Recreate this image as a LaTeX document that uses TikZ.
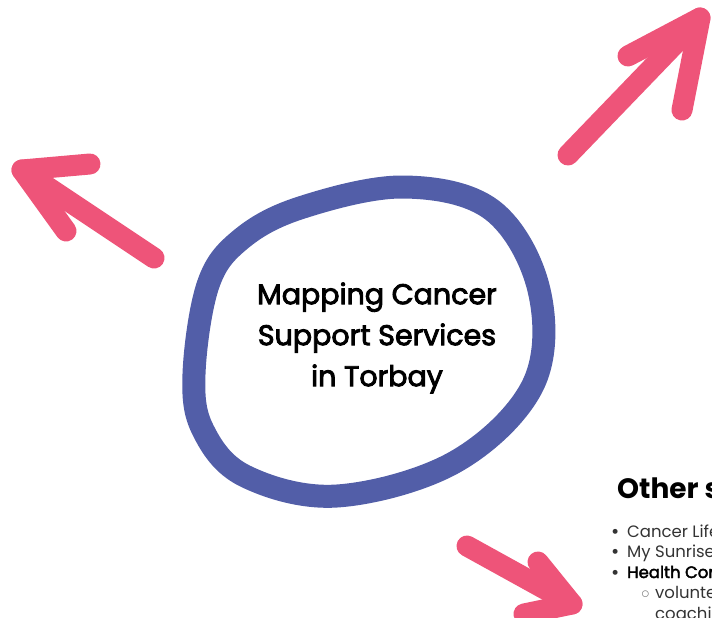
\documentclass[tikz,border=0pt]{standalone}
\usepackage{fontspec}
\setmainfont{Poppins}
\newfontfamily\titlefont[FakeBold=3]{Poppins}
\newfontfamily\boldlistfont[FakeBold=2.5]{Poppins}
\definecolor{ringblue}{HTML}{525EA8}
\definecolor{arrowpink}{HTML}{EE5479}
\definecolor{txtgray}{HTML}{333333}
\begin{document}
\begin{tikzpicture}[x=1pt,y=-1pt,
  ring/.style={draw=ringblue,line width=23pt},
  pinkstroke/.style={draw=arrowpink,line width=21pt,line cap=round,line join=round},
  title/.style={font=\titlefont\fontsize{28.5}{41}\selectfont,align=center,text=black,inner sep=0pt},
  listtxt/.style={font=\fontsize{16.5}{20}\selectfont,text=txtgray,anchor=base west,inner sep=0pt}]
\useasboundingbox (0,0) rectangle (712,618);
\begin{scope}
\clip (0,0) rectangle (712,618);
% ring
\draw[ring] plot[smooth cycle,tension=0.6] coordinates {(194,374) (208,285) (240,240) (300,208) (403,187) (492,210) (539,290) (533,385) (455,462) (337,496) (245,476) (203,430)};
\node[title] (t) at (377,338) {Mapping Cancer\\Support Services\\in Torbay};
% top-right arrow
\coordinate (a1s) at (568,155);
\coordinate (a1t) at (700,18);
\coordinate (a1l) at (628,56);
\coordinate (a1r) at (682,110);
\draw[pinkstroke] (a1s) -- (a1t);
\draw[pinkstroke] (a1l) -- (a1t) -- (a1r);
% left arrow
\coordinate (a2s) at (154,258);
\coordinate (a2t) at (22,170);
\coordinate (a2u) at (90,164);
\coordinate (a2d) at (66,231);
\draw[pinkstroke] (a2s) -- (a2t);
\draw[pinkstroke] (a2u) -- (a2t) -- (a2d);
% bottom arrow
\coordinate (a3s) at (467,546);
\coordinate (a3t) at (572,604);
\coordinate (a3u) at (538,562);
\coordinate (a3d) at (524,614);
\draw[pinkstroke] (a3s) -- (a3t);
\draw[pinkstroke] (a3u) -- (a3t) -- (a3d);
% other services text
\node[font=\bfseries\fontsize{28}{34}\selectfont,anchor=base west,inner sep=0pt] (h) at (617,498) {Other services};
\node[listtxt,font=\fontsize{20}{20}\selectfont] (d1) at (611,538) {\textbullet};
\node[listtxt] (b1) at (627,537) {Cancer Life};
\node[listtxt,font=\fontsize{20}{20}\selectfont] (d2) at (611,558) {\textbullet};
\node[listtxt] (b2) at (627,557) {My Sunrise};
\node[listtxt,font=\fontsize{20}{20}\selectfont] (d3) at (611,579) {\textbullet};
\node[listtxt,font=\boldlistfont\fontsize{16.5}{20}\selectfont,text=black] (b3) at (627,578) {Health Connect};
\node[listtxt,text=gray] (d4) at (641,598) {$\circ$};
\node[listtxt] (b4) at (655,598) {volunteer};
\node[listtxt] (b5) at (655,619) {coaching};
\end{scope}
\end{tikzpicture}
\end{document}
